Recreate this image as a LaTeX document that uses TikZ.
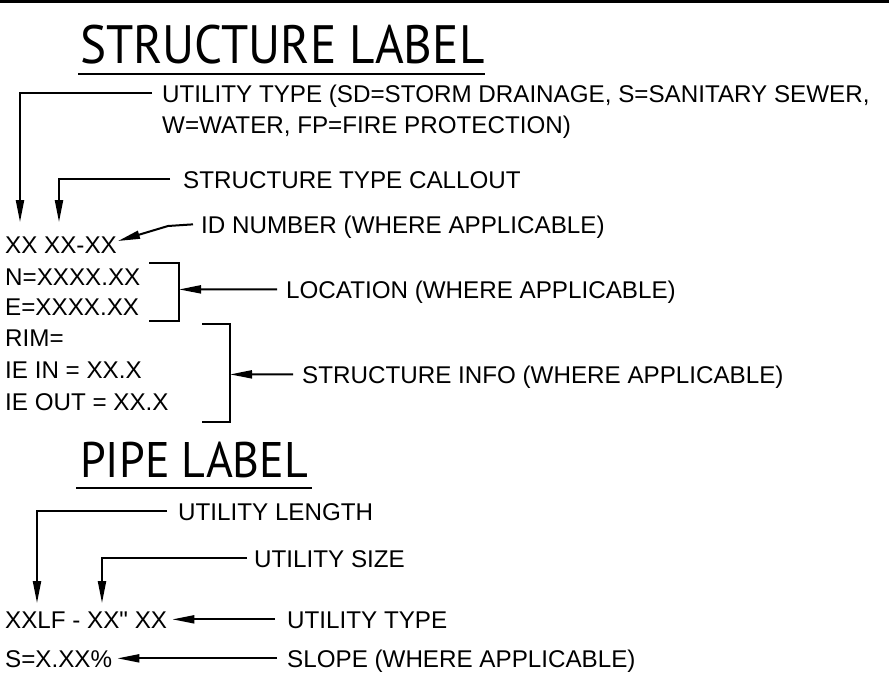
\documentclass[tikz,border=0pt]{standalone}
\usepackage{graphicx}
\usepackage{fontspec}
\setmainfont{Liberation Sans}
\newfontfamily\qfont{Liberation Sans}[Ligatures=TeXOff]
\newfontfamily\headfont{PT Sans}
\usetikzlibrary{arrows.meta}
\begin{document}
\begin{tikzpicture}[x=1pt,y=-1pt,
 lbl/.style={anchor=base west,inner sep=0pt,font=\fontsize{24.2}{28}\selectfont,text height=17.3pt,text depth=0pt},
 head/.style={anchor=base west,inner sep=0pt,font=\headfont\fontsize{54}{60}\selectfont},
 ln/.style={line width=2pt},
 uline/.style={line width=2.5pt},
 arr/.style={line width=2pt,-{Triangle[length=22pt,width=8pt]}},
]
\useasboundingbox (0,0) rectangle (889,686);
\draw[line width=3pt] (0,1.5) -- (889,1.5);

% headings
\node[head] (h1) at (80,63) {\scalebox{0.91}[1]{STRUCTURE LABEL}};
\draw[uline] (78,74) -- (485,74);
\node[head,font=\headfont\fontsize{50}{56}\selectfont] (h2) at (80,477) {\scalebox{0.92}[1]{PIPE LABEL}};
\draw[uline] (76,488) -- (312,488);

% structure label
\node[lbl] (ut1) at (162,102) {UTILITY TYPE (SD=STORM DRAINAGE, S=SANITARY SEWER,};
\node[lbl] (ut2) at (162,133) {W=WATER, FP=FIRE PROTECTION)};
\node[lbl] (stc) at (183,188) {STRUCTURE TYPE CALLOUT};
\node[lbl] (idn) at (201,233) {ID NUMBER (WHERE APPLICABLE)};
\node[lbl] (xx) at (5,253) {XX XX-XX};
\node[lbl] (nn) at (5,285) {N=XXXX.XX};
\node[lbl] (ee) at (5,315) {E=XXXX.XX};
\node[lbl] (rim) at (5,346) {RIM=};
\node[lbl] (iein) at (5,378) {IE IN = XX.X};
\node[lbl] (ieout) at (5,410) {IE OUT = XX.X};
\node[lbl] (loc) at (286,298) {LOCATION (WHERE APPLICABLE)};
\node[lbl] (sinfo) at (302,383) {STRUCTURE INFO (WHERE APPLICABLE)};

\coordinate (t1) at (20,222);
\coordinate (t2) at (59,222);
\coordinate (t3) at (118,241);
\coordinate (k3) at (168,226);
\coordinate (b1) at (179,289.4);
\coordinate (b2) at (230,374.4);

\draw[arr] ([xshift=-10pt]ut1.west) -| (t1);
\draw[arr] ([xshift=-13pt]stc.west) -| (t2);
\draw[arr] ([xshift=-8pt]idn.west) -- (k3) -- (t3);
\draw[ln] (149,263) -- (179,263) -- (179,321) -- (149,321);
\draw[ln] (202,324) -- (230,324) -- (230,422) -- (202,422);
\draw[arr] ([xshift=-9pt]loc.west) -- (b1);
\draw[arr] ([xshift=-9pt]sinfo.west) -- (b2);

% pipe label
\node[lbl] (ul) at (178,520) {UTILITY LENGTH};
\node[lbl] (us) at (254,567) {UTILITY SIZE};
\node[lbl] (xxlf) at (5,628) {XXLF - XX{\qfont "} XX};
\node[lbl] (ut3) at (287,628) {UTILITY TYPE};
\node[lbl] (ss) at (5,667) {S=X.XX\%};
\node[lbl] (slope) at (287,667) {SLOPE (WHERE APPLICABLE)};

\coordinate (t4) at (37,603);
\coordinate (t5) at (102,603);
\draw[arr] ([xshift=-11pt]ul.west) -| (t4);
\draw[arr] ([xshift=-7pt]us.west) -| (t5);
\draw[arr] ([xshift=-12pt]ut3.west) -- ([xshift=5pt]xxlf.east);
\draw[arr] ([xshift=-10pt]slope.west) -- ([xshift=5pt]ss.east);
\end{tikzpicture}
\end{document}
